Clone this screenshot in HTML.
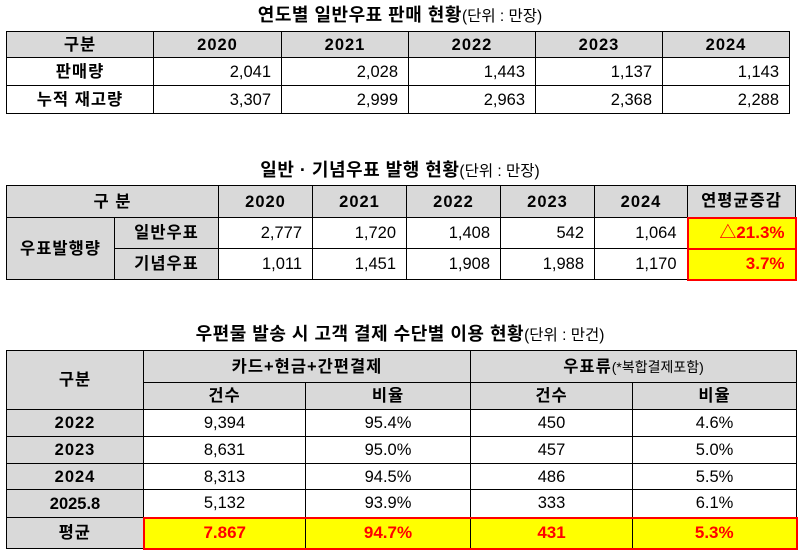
<!DOCTYPE html>
<html><head><meta charset="utf-8"><style>
body{margin:0;width:800px;height:555px;background:#fff;position:relative;overflow:hidden;font-family:"Liberation Sans","Noto Sans CJK KR",sans-serif;color:#000}
.t{position:absolute;left:0;width:800px;text-align:center;font-size:18px;font-weight:bold;line-height:22px;white-space:nowrap;letter-spacing:0.5px}
.t span{font-weight:normal;font-size:15.5px;letter-spacing:0}
table{position:absolute;border-collapse:collapse;table-layout:fixed;font-size:16.5px}
td{border:1px solid #000;padding:0 10px;white-space:nowrap;overflow:visible;line-height:18px}
.h{background:#d9d9d9;font-weight:bold;text-align:center;letter-spacing:1px}
.r{text-align:right}
.c{text-align:center}
.y{background:#ffff00;color:#ff0000;font-weight:bold;border:2px solid #ff0000;font-size:17px}
</style></head><body>
<div class="t" style="top:4px">연도별 일반우표 판매 현황<span>(단위 : 만장)</span></div>
<table style="left:6px;top:31px;width:783px">
<colgroup><col style="width:147px"><col style="width:128px"><col style="width:127px"><col style="width:127px"><col style="width:127px"><col style="width:127px"></colgroup>
<tr style="height:26px"><td class="h">구분</td><td class="h">2020</td><td class="h">2021</td><td class="h">2022</td><td class="h">2023</td><td class="h">2024</td></tr>
<tr style="height:28px"><td class="c" style="font-weight:bold;letter-spacing:1px">판매량</td><td class="r">2,041</td><td class="r">2,028</td><td class="r">1,443</td><td class="r">1,137</td><td class="r">1,143</td></tr>
<tr style="height:28px"><td class="c" style="font-weight:bold;letter-spacing:1px">누적 재고량</td><td class="r">3,307</td><td class="r">2,999</td><td class="r">2,963</td><td class="r">2,368</td><td class="r">2,288</td></tr>
</table>

<div class="t" style="top:159px">일반 · 기념우표 발행 현황<span>(단위 : 만장)</span></div>
<table style="left:6px;top:185px;width:789px">
<colgroup><col style="width:108px"><col style="width:104px"><col style="width:94px"><col style="width:94px"><col style="width:94px"><col style="width:94px"><col style="width:93px"><col style="width:108px"></colgroup>
<tr style="height:32px"><td class="h" colspan="2">구 분</td><td class="h">2020</td><td class="h">2021</td><td class="h">2022</td><td class="h">2023</td><td class="h">2024</td><td class="h" style="padding:0 2px">연평균증감</td></tr>
<tr style="height:31px"><td class="h" rowspan="2" style="padding:0 2px">우표발행량</td><td class="h">일반우표</td><td class="r">2,777</td><td class="r">1,720</td><td class="r">1,408</td><td class="r">542</td><td class="r">1,064</td><td class="r y">△21.3%</td></tr>
<tr style="height:31px"><td class="h">기념우표</td><td class="r">1,011</td><td class="r">1,451</td><td class="r">1,908</td><td class="r">1,988</td><td class="r">1,170</td><td class="r y">3.7%</td></tr>
</table>

<div class="t" style="top:323px">우편물 발송 시 고객 결제 수단별 이용 현황<span>(단위 : 만건)</span></div>
<table style="left:6px;top:350px;width:790px">
<colgroup><col style="width:137px"><col style="width:162px"><col style="width:165px"><col style="width:162px"><col style="width:164px"></colgroup>
<tr style="height:32px"><td class="h" rowspan="2">구분</td><td class="h" colspan="2">카드+현금+간편결제</td><td class="h" colspan="2">우표류<span style="font-weight:normal;font-size:14px;letter-spacing:0">(*복합결제포함)</span></td></tr>
<tr style="height:27px"><td class="h">건수</td><td class="h">비율</td><td class="h">건수</td><td class="h">비율</td></tr>
<tr style="height:27px"><td class="h">2022</td><td class="c">9,394</td><td class="c">95.4%</td><td class="c">450</td><td class="c">4.6%</td></tr>
<tr style="height:27px"><td class="h">2023</td><td class="c">8,631</td><td class="c">95.0%</td><td class="c">457</td><td class="c">5.0%</td></tr>
<tr style="height:26px"><td class="h">2024</td><td class="c">8,313</td><td class="c">94.5%</td><td class="c">486</td><td class="c">5.5%</td></tr>
<tr style="height:28px"><td class="h" style="letter-spacing:0">2025.8</td><td class="c">5,132</td><td class="c">93.9%</td><td class="c">333</td><td class="c">6.1%</td></tr>
<tr style="height:31px"><td class="h">평균</td><td class="c y" style="border-right:1px solid #000">7.867</td><td class="c y" style="border-left:1px solid #000;border-right:1px solid #000">94.7%</td><td class="c y" style="border-left:1px solid #000;border-right:1px solid #000">431</td><td class="c y" style="border-left:1px solid #000">5.3%</td></tr>
</table>
</body></html>
